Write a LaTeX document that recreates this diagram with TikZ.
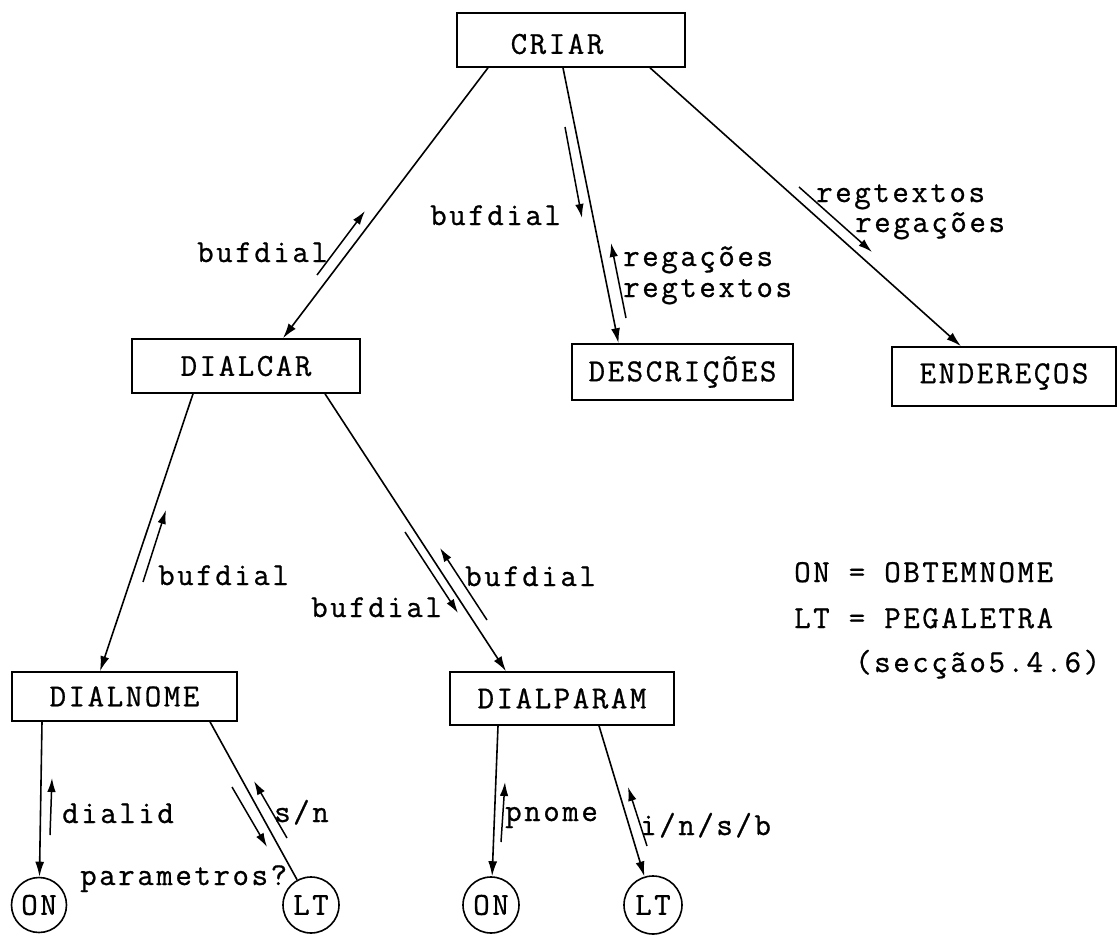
\documentclass[tikz,border=0pt]{standalone}
\usepackage{fontspec}
\setmonofont{Latin Modern Mono}[LetterSpace=8, FakeBold=0.8]
\usetikzlibrary{arrows.meta,calc}
\begin{document}
\begin{tikzpicture}[x=1pt,y=-1pt,
  every node/.style={font=\ttfamily\fontsize{32}{38}\selectfont, inner sep=0pt},
  box/.style={draw, rectangle, line width=1.6pt},
  term/.style={draw, circle, line width=1.6pt},
  link/.style={line width=1.6pt, -{Latex[length=15pt,width=9pt]}},
  bare/.style={line width=1.6pt},
  flow/.style={line width=1.5pt, -{Latex[length=14pt,width=8.5pt]}},
  lbl/.style={anchor=base west},
]
\useasboundingbox (0,0) rectangle (1118,936);

% modules
\node[box, minimum width=228, minimum height=54] (criar)     at (571,40)      {};
\node (criartxt) at (557,44) {CRIAR};
\node[box, minimum width=228, minimum height=54] (dialcar)   at (246,366)     {DIALCAR};
\node[box, minimum width=221, minimum height=56] (descr)     at (682.5,372)   {DESCRIÇÕES};
\node[box, minimum width=224, minimum height=59] (ender)     at (1004,376.5)  {ENDEREÇOS};
\node[box, minimum width=225, minimum height=49] (dialnome)  at (124.5,696.5) {DIALNOME};
\node[box, minimum width=224, minimum height=53] (dialparam) at (562,698.5)   {DIALPARAM};

% library routines
\node[term, minimum size=55] (on1) at (39,905)  {ON};
\node[term, minimum size=56] (lt1) at (311,905) {LT};
\node[term, minimum size=56] (on2) at (491,905) {ON};
\node[term, minimum size=58] (lt2) at (653,905) {LT};

% calls
\draw[link] ([xshift=-83]criar.south)    -- ([xshift=37]dialcar.north);
\draw[link] ([xshift=-8]criar.south)     -- ([xshift=-64]descr.north);
\draw[link] ([xshift=79]criar.south)     -- ([xshift=-43]ender.north);
\draw[link] ([xshift=-53]dialcar.south)  -- ([xshift=-24.5]dialnome.north);
\draw[link] ([xshift=79]dialcar.south)   -- ([xshift=-56]dialparam.north);
\draw[link] ([xshift=-82.5]dialnome.south) -- (on1);
\draw[bare] ([xshift=85.5]dialnome.south)  -- (lt1);
\draw[link] ([xshift=-64]dialparam.south)  -- (on2);
\draw[link] ([xshift=37]dialparam.south)   -- (lt2);

% data flows along the calls
\coordinate (f1a) at (317,275);  \coordinate (f1b) at (365,211);
\coordinate (f2a) at (565,127);  \coordinate (f2b) at (582,218);
\coordinate (f3a) at (626,318);  \coordinate (f3b) at (611,243);
\coordinate (f4a) at (799,187);  \coordinate (f4b) at (872,252);
\coordinate (f5a) at (143,582);  \coordinate (f5b) at (166,510);
\coordinate (f6a) at (405,532);  \coordinate (f6b) at (458,613);
\coordinate (f7a) at (487,620);  \coordinate (f7b) at (440,548);
\coordinate (f8a) at (50,835);   \coordinate (f8b) at (52,778);
\coordinate (f9a) at (232,787);  \coordinate (f9b) at (267,847);
\coordinate (f10a) at (287,838); \coordinate (f10b) at (254,781);
\coordinate (f11a) at (501,842); \coordinate (f11b) at (505,782);
\coordinate (f12a) at (647,846); \coordinate (f12b) at (628,787);
\foreach \f in {f1,f2,f3,f4,f5,f6,f7,f8,f9,f10,f11,f12}
  \draw[flow] (\f a) -- (\f b);

% flow labels
\node[lbl] (l1)  at (197,262) {bufdial};
\node[lbl] (l2)  at (430,225) {bufdial};
\node[lbl] (l3)  at (623,266) {regações};
\node[lbl] (l3b) at (623,297) {regtextos};
\node[lbl] (l4)  at (816,202) {regtextos};
\node[lbl] (l4b) at (855,232) {regações};
\node[lbl] (l5)  at (158,585) {bufdial};
\node[lbl] (l6)  at (311,617) {bufdial};
\node[lbl] (l7)  at (465,586) {bufdial};
\node[lbl] (l8)  at (62,823)  {dialid};
\node[lbl] (l9)  at (274,822) {s/n};
\node[lbl] (l10) at (80,885)  {parametros?};
\node[lbl] (l11) at (505,821) {pnome};
\node[lbl] (l12) at (640,835) {i/n/s/b};

% legend
\node[lbl] (k1) at (794,582) {ON = OBTEMNOME};
\node[lbl] (k2) at (794,628) {LT = PEGALETRA};
\node[lbl] (k3) at (855,672) {(secção5.4.6)};
\end{tikzpicture}
\end{document}
